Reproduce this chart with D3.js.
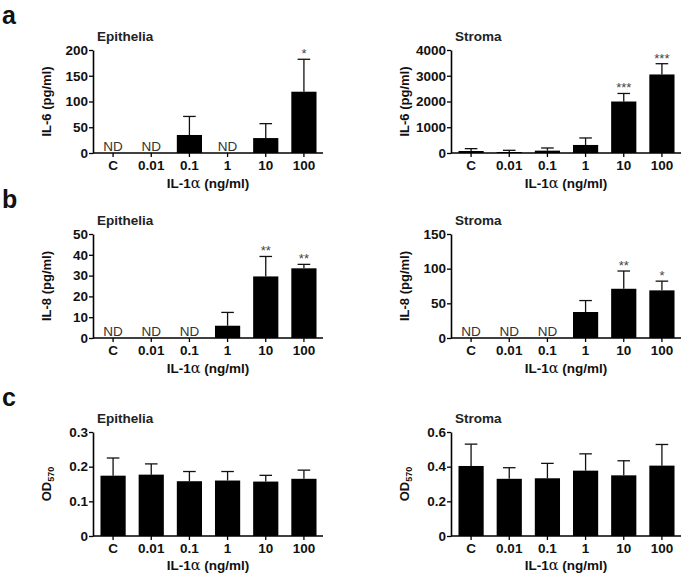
<!DOCTYPE html>
<html>
<head>
<meta charset="utf-8">
<script src="https://cdn.jsdelivr.net/npm/d3@7"></script>
<style>
body { margin: 0; background: #fff; }
svg { font-family: "Liberation Sans", Arial, sans-serif; }
</style>
</head>
<body>
<div id="chart"></div>
<script>
const doses = ['C', '0.01', '0.1', '1', '10', '100'];

// null = ND (not detected)
const il6Epi = [null, null, 35, null, 29, 119];
const il6EpiSd = [null, null, 36, null, 28, 63];
const il6EpiStars = ['', '', '', '', '', '*'];

const il6Str = [78, 39, 91, 312, 2000, 3050];
const il6StrSd = [91, 65, 104, 272, 312, 418];
const il6StrStars = ['', '', '', '', '***', '***'];

const il8Epi = [null, null, null, 5.9, 29.6, 33.5];
const il8EpiSd = [null, null, null, 6.4, 9.6, 1.9];
const il8EpiStars = ['', '', '', '', '**', '**'];

const il8Str = [null, null, null, 37.5, 71, 68.7];
const il8StrSd = [null, null, null, 16.5, 25.6, 13.3];
const il8StrStars = ['', '', '', '', '**', '*'];

const odEpi = [0.174, 0.177, 0.158, 0.160, 0.157, 0.165];
const odEpiSd = [0.051, 0.031, 0.028, 0.026, 0.018, 0.025];

const odStr = [0.404, 0.330, 0.333, 0.377, 0.350, 0.406];
const odStrSd = [0.126, 0.064, 0.086, 0.097, 0.084, 0.122];

const il6EpiTicks = [0, 50, 100, 150, 200];
const il6StrTicks = [0, 1000, 2000, 3000, 4000];
const il8EpiTicks = [0, 10, 20, 30, 40, 50];
const il8StrTicks = [0, 50, 100, 150];
const odEpiTicks = [0, 0.1, 0.2, 0.3];
const odStrTicks = [0, 0.2, 0.4, 0.6];

const W = 683, H = 579;
const svg = d3.select('#chart').append('svg')
	.attr('width', W)
	.attr('height', H);

const rows = [
	{letter: 'a', letterY: 24, top: 50, bottom: 153, labelOff: 35},
	{letter: 'b', letterY: 208, top: 234, bottom: 338, labelOff: 35},
	{letter: 'c', letterY: 406, top: 432, bottom: 536, labelOff: 33.5}
];
const cols = [
	{x0: 93, x1: 323, title: 'Epithelia'},
	{x0: 451, x1: 681, title: 'Stroma'}
];

const drawPanel = (row, col, values, sd, stars, ticks, yLabel) => {
	const y = d3.scaleLinear()
		.domain([0, ticks[ticks.length - 1]])
		.range([row.bottom, row.top]);
	const x = d3.scaleBand()
		.domain(doses)
		.range([col.x0 + 1, col.x1])
		.paddingInner(0.34)
		.paddingOuter(0.17);

	const g = svg.append('g');

	// bars
	doses.forEach((d, i) => {
		const v = values[i];
		const cx = x(d) + x.bandwidth() / 2;
		if (v === null) {
			g.append('text')
				.attr('x', cx)
				.attr('y', row.bottom - 2)
				.attr('text-anchor', 'middle')
				.attr('font-size', 13.5)
				.attr('fill', '#333')
				.text('ND');
			return;
		}
		const tip = y(v + sd[i]);
		g.append('line')
			.attr('x1', cx).attr('x2', cx)
			.attr('y1', y(v)).attr('y2', tip)
			.attr('stroke', '#111').attr('stroke-width', 1.3);
		g.append('line')
			.attr('x1', cx - x.bandwidth() / 4).attr('x2', cx + x.bandwidth() / 4)
			.attr('y1', tip).attr('y2', tip)
			.attr('stroke', '#111').attr('stroke-width', 1.3);
		g.append('rect')
			.attr('x', x(d))
			.attr('width', x.bandwidth())
			.attr('y', y(v))
			.attr('height', row.bottom - y(v))
			.attr('fill', '#000');
		if (stars && stars[i]) {
			g.append('text')
				.attr('x', cx)
				.attr('y', tip - 1)
				.attr('text-anchor', 'middle')
				.attr('font-size', 13)
				.attr('fill', '#444')
				.text(stars[i]);
		}
	});

	// axes
	const fmt = d3.format('');
	const yAxis = d3.axisLeft(y)
		.tickValues(ticks)
		.tickFormat(d => fmt(d))
		.tickSize(4)
		.tickPadding(1)
		.tickSizeOuter(0);
	const ya = g.append('g')
		.attr('transform', `translate(${col.x0},0)`)
		.call(yAxis);

	const xAxis = d3.axisBottom(x)
		.tickSize(4)
		.tickPadding(3)
		.tickSizeOuter(0);
	const xa = g.append('g')
		.attr('transform', `translate(0,${row.bottom})`)
		.call(xAxis);
	xa.select('.domain').attr('d', `M${col.x0},0H${col.x1}`);

	[ya, xa].forEach(a => {
		a.select('.domain').attr('stroke', '#000').attr('stroke-width', 1.6);
		a.selectAll('.tick line').attr('stroke', '#000').attr('stroke-width', 1.3);
		a.selectAll('.tick text')
			.attr('font-size', 13.5)
			.attr('font-weight', 'bold')
			.attr('font-family', '"Liberation Sans", Arial, sans-serif')
			.attr('fill', '#111');
	});

	// title
	g.append('text')
		.attr('x', col.x0 + 4)
		.attr('y', row.top - 9)
		.attr('font-size', 13.5)
		.attr('font-weight', 'bold')
		.attr('fill', '#222')
		.text(col.title);

	// y label
	const yl = g.append('text')
		.attr('transform', `translate(${col.x0 - 42},${(row.top + row.bottom) / 2}) rotate(-90)`)
		.attr('text-anchor', 'middle')
		.attr('font-size', 13)
		.attr('font-weight', 'bold')
		.attr('fill', '#111');
	if (yLabel === 'OD') {
		yl.append('tspan').text('OD');
		yl.append('tspan').attr('font-size', 9).attr('dy', 3).text('570');
	} else {
		yl.text(yLabel);
	}

	// x label
	const xl = g.append('text')
		.attr('x', (col.x0 + col.x1) / 2)
		.attr('y', row.bottom + row.labelOff)
		.attr('text-anchor', 'middle')
		.attr('font-size', 13.5)
		.attr('font-weight', 'bold')
		.attr('fill', '#111');
	xl.append('tspan').text('IL-1');
	xl.append('tspan')
		.attr('font-family', '"DejaVu Serif", "Liberation Serif", serif')
		.attr('font-weight', 'normal')
		.attr('font-size', 14.5)
		.text('\u03b1');
	xl.append('tspan').text(' (ng/ml)');
};

rows.forEach(r => {
	svg.append('text')
		.attr('x', 2)
		.attr('y', r.letterY)
		.attr('font-size', 25)
		.attr('font-weight', 'bold')
		.attr('fill', '#111')
		.text(r.letter);
});

drawPanel(rows[0], cols[0], il6Epi, il6EpiSd, il6EpiStars, il6EpiTicks, 'IL-6 (pg/ml)');
drawPanel(rows[0], cols[1], il6Str, il6StrSd, il6StrStars, il6StrTicks, 'IL-6 (pg/ml)');
drawPanel(rows[1], cols[0], il8Epi, il8EpiSd, il8EpiStars, il8EpiTicks, 'IL-8 (pg/ml)');
drawPanel(rows[1], cols[1], il8Str, il8StrSd, il8StrStars, il8StrTicks, 'IL-8 (pg/ml)');
drawPanel(rows[2], cols[0], odEpi, odEpiSd, null, odEpiTicks, 'OD');
drawPanel(rows[2], cols[1], odStr, odStrSd, null, odStrTicks, 'OD');
</script>
</body>
</html>
